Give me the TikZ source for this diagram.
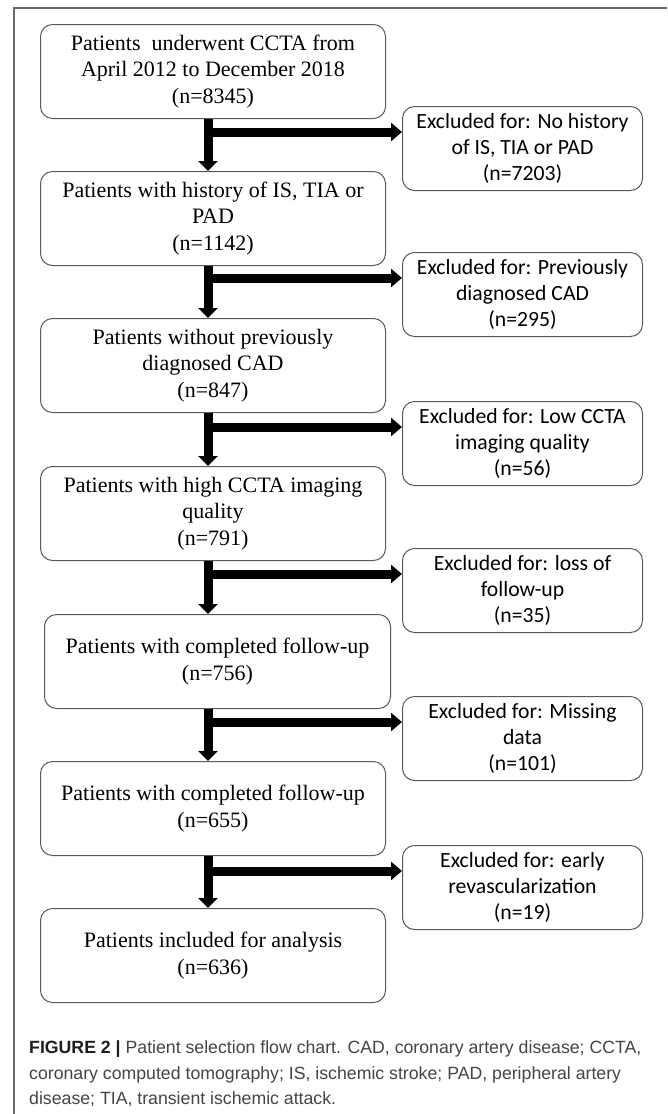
\documentclass[tikz,border=0pt]{standalone}
\usepackage{fontspec}
\setmainfont{Liberation Serif}
\newfontfamily\calfont{Carlito}
\newfontfamily\capfont{Liberation Sans}
\usetikzlibrary{arrows.meta}
\definecolor{boxgray}{HTML}{5A5A5A}
\definecolor{framegray}{HTML}{6A6A6A}
\definecolor{captext}{HTML}{444444}
\definecolor{capbold}{HTML}{1E1E1E}
\begin{document}
\begin{tikzpicture}[x=1pt,y=-1pt,
  pbox/.style={draw=boxgray, line width=1pt, rounded corners=12pt, anchor=north west,
    minimum width=345pt, minimum height=94pt, align=center, inner sep=0pt,
    font=\fontsize{22}{26.5}\selectfont},
  ebox/.style={draw=boxgray, line width=1pt, rounded corners=12pt, anchor=north west,
    minimum width=240pt, minimum height=84pt, align=center, inner sep=0pt,
    font=\calfont\fontsize{21.7}{26}\selectfont},
  vflow/.style={line width=9pt, -{Triangle[width=19pt,length=10pt]}},
  hflow/.style={line width=9pt, -{Triangle[width=18pt,length=11pt]}},
  capline/.style={anchor=base west, inner sep=0pt, text=captext,
    font=\capfont\fontsize{17.7}{25}\selectfont},
]
\useasboundingbox (0,0) rectangle (667,1114);
\draw[framegray, line width=1.2pt] (667,8) -- (14,8) -- (14,1114);

% main column
\node[pbox] (b1) at (40,24)  {Patients~ underwent CCTA from\\April 2012 to December 2018\\(n=8345)};
\node[pbox] (b2) at (40,171) {Patients with history of IS, TIA or\\PAD\\(n=1142)};
\node[pbox] (b3) at (40,318) {Patients without previously\\diagnosed CAD\\(n=847)};
\node[pbox] (b4) at (40,466) {Patients with high CCTA imaging\\quality\\(n=791)};
\node[pbox, minimum width=346pt] (b5) at (44,614) {Patients with completed follow-up\\(n=756)};
\node[pbox] (b6) at (40,761) {Patients with completed follow-up\\(n=655)};
\node[pbox] (b7) at (40,908) {Patients included for analysis\\(n=636)};

% excluded column
\node[ebox] (e1) at (402,106) {Excluded for: No history\\of IS, TIA or PAD\\(n=7203)};
\node[ebox] (e2) at (402,252) {Excluded for: Previously\\diagnosed CAD\\(n=295)};
\node[ebox] (e3) at (402,401) {Excluded for: Low CCTA\\imaging quality\\(n=56)};
\node[ebox] (e4) at (402,548) {Excluded for: loss of\\follow-up\\(n=35)};
\node[ebox] (e5) at (402,696) {Excluded for: Missing\\data\\(n=101)};
\node[ebox] (e6) at (402,845) {Excluded for: early\\revascularization\\(n=19)};

% arrow axis
\coordinate (ax) at (208,0);
\foreach \i in {1,...,6}{
  \coordinate (h\i) at ([yshift=-26pt]e\i.north west);
}
\draw[hflow] (h1 -| ax) -- (h1);
\draw[hflow] (h2 -| ax) -- (h2);
\draw[hflow] (h3 -| ax) -- (h3);
\draw[hflow] (h4 -| ax) -- (h4);
\draw[hflow] (h5 -| ax) -- (h5);
\draw[hflow] (h6 -| ax) -- (h6);
\draw[vflow] (b1.south -| ax) -- (b2.north -| ax);
\draw[vflow] (b2.south -| ax) -- (b3.north -| ax);
\draw[vflow] (b3.south -| ax) -- (b4.north -| ax);
\draw[vflow] (b4.south -| ax) -- (b5.north -| ax);
\draw[vflow] (b5.south -| ax) -- (b6.north -| ax);
\draw[vflow] (b6.south -| ax) -- (b7.north -| ax);

% caption
\node[capline] (c1) at (29,1053) {{\color{capbold}\bfseries FIGURE 2 |} Patient selection flow chart. CAD, coronary artery disease; CCTA,};
\node[capline] (c2) at (29,1079) {coronary computed tomography; IS, ischemic stroke; PAD, peripheral artery};
\node[capline] (c3) at (29,1104) {disease; TIA, transient ischemic attack.};
\end{tikzpicture}
\end{document}
